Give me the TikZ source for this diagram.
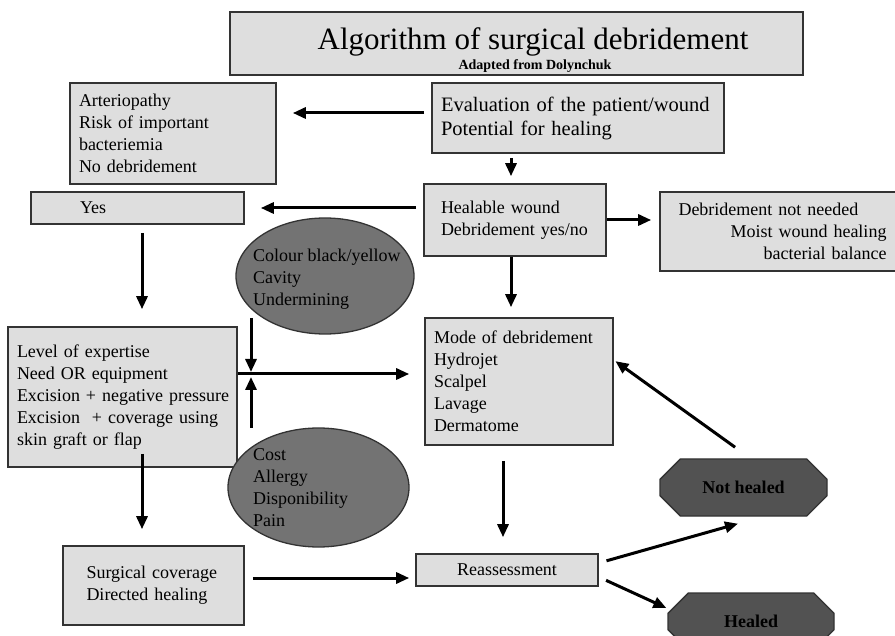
\documentclass[tikz,border=0pt]{standalone}
\usepackage{fontspec}
\setmainfont{Liberation Serif}
\usepackage{tikz}
\usetikzlibrary{arrows.meta}
\usetikzlibrary{shapes.geometric}
\usetikzlibrary{shapes.misc}
\definecolor{boxfill}{HTML}{DEDEDE}
\definecolor{boxline}{HTML}{333333}
\definecolor{blobfill}{HTML}{737373}
\definecolor{endfill}{HTML}{525252}

\begin{document}
\begin{tikzpicture}[x=1pt, y=-1pt,
    box/.style={draw=boxline, fill=boxfill, line width=1.6pt, align=left,
        inner xsep=9pt, inner ysep=0pt, font=\fontsize{18}{22}\selectfont},
    blob/.style={ellipse, draw=boxline, fill=blobfill, line width=1.3pt, inner sep=0pt},
    blobtext/.style={align=left, anchor=west, inner sep=0pt, font=\fontsize{18}{22}\selectfont},
    endbox/.style={chamfered rectangle, chamfered rectangle xsep=17pt,
        chamfered rectangle ysep=14pt, draw=boxline, fill=endfill, line width=1.3pt,
        inner sep=0pt, font=\bfseries\fontsize{18}{22}\selectfont},
    arr/.style={-{Triangle[length=13pt,width=11pt]}, line width=3pt}]
    \useasboundingbox (0,0) rectangle (895,636);

    \node[box, minimum width=573pt, minimum height=63pt] (ttl) at (516.5,43.5) {};
    \node[anchor=base, inner sep=0pt, font=\fontsize{31}{31}\selectfont] (ttltext) at (533,50) {Algorithm of surgical debridement};
    \node[anchor=base, inner sep=0pt, font=\bfseries\fontsize{14}{14}\selectfont] (ttlsub) at (535,70) {Adapted from Dolynchuk};

    \node[box, text width=188pt, minimum height=101pt] (arter) at (173,133.5)
        {Arteriopathy\\Risk of important\\bacteriemia\\No debridement};
    \node[box, text width=274pt, minimum height=70pt, font=\fontsize{20.5}{24}\selectfont] (eval) at (578,118)
        {Evaluation of the patient/wound\\Potential for healing};
    \node[box, inner xsep=49pt, text width=115pt, minimum height=32pt] (yes) at (137.5,208) {Yes};
    \node[box, inner xsep=17pt, text width=148pt, minimum height=72pt] (heal) at (515,220)
        {Healable wound\\Debridement yes/no};
    \node[box, inner xsep=18.5pt, text width=300pt, minimum height=79pt] (notneed) at (828.5,231.5)
        {Debridement not needed\\\makebox[208pt][r]{Moist wound healing}\\\makebox[208pt][r]{bacterial balance}};
    \node[box, text width=170pt, minimum height=127pt] (mode) at (519,381.5)
        {Mode of debridement\\Hydrojet\\Scalpel\\Lavage\\Dermatome};
    \node[box, text width=211pt, minimum height=140pt] (level) at (122.5,397)
        {Level of expertise\\Need OR equipment\\\mbox{Excision + negative pressure}\\\mbox{Excision~ + coverage using}\\skin graft or flap};
    \node[box, inner xsep=23.5pt, text width=134pt, minimum height=79pt] (surg) at (153.5,585.5)
        {Surgical coverage\\Directed healing};
    \node[box, text width=164pt, minimum height=32pt, align=center] (reass) at (507,570) {Reassessment};

    \node[blob, minimum width=178pt, minimum height=116pt] (colour) at (325,276) {};
    \node[blobtext] (colourtxt) at (253,279) {Colour black/yellow\\Cavity\\Undermining};
    \node[blob, minimum width=181pt, minimum height=119pt] (cost) at (318.5,487.5) {};
    \node[blobtext] (costtxt) at (253,487.5) {Cost\\Allergy\\Disponibility\\Pain};

    \node[endbox, minimum width=167pt, minimum height=57pt] (notheal) at (743.5,487.5) {Not healed};
    \node[endbox, minimum width=166pt, minimum height=57pt] (healed) at (751,621.5) {Healed};

    \coordinate (cross) at (251,374);

    \draw[arr, shorten <=7pt, shorten >=16pt] ([yshift=5pt]eval.west) -- ([yshift=5pt]eval.west -| arter.east);
    \draw[arr, shorten <=4pt, shorten >=7pt] ([xshift=-4pt]heal.north |- eval.south) -- ([xshift=-4pt]heal.north);
    \draw[arr, shorten <=7pt, shorten >=16pt] (yes.east -| heal.west) -- (yes.east);
    \draw[arr, shorten >=8pt] (heal.east) -- (heal.east -| notneed.west);
    \draw[arr, shorten >=10pt] ([xshift=-4pt]heal.south) -- ([xshift=-4pt]heal.south |- mode.north);
    \draw[arr, shorten <=8pt, shorten >=17pt] ([xshift=4.5pt]yes.south) -- ([xshift=4.5pt]yes.south |- level.north);
    \draw[arr, shorten >=15pt] ([yshift=23pt]level.east) -- ([yshift=23pt]level.east -| mode.west);
    \draw[arr, shorten <=10pt, shorten >=2pt] (cross |- colour.203) -- (cross);
    \draw[arr, shorten <=20pt, shorten >=3pt] (cross |- cost.150) -- (cross);
    \draw[arr, shorten <=-14pt, shorten >=16pt] ([xshift=19.5pt]level.south) -- ([xshift=19.5pt]level.south |- surg.north);
    \draw[arr, shorten <=8pt, shorten >=6pt] ([yshift=-8pt]reass.west -| surg.east) -- ([yshift=-8pt]reass.west);
    \draw[arr, shorten <=15pt, shorten >=16pt] ([xshift=-4pt]reass.north |- mode.south) -- ([xshift=-4pt]reass.north);
    \draw[arr, shorten <=8pt] ([yshift=7pt]reass.east) -- ([xshift=-5.5pt,yshift=-7pt]notheal.south);
    \draw[arr, shorten <=8pt] ([yshift=-7pt]reass.east) -- ([xshift=-1pt,yshift=13.5pt]healed.west);
    \draw[arr, shorten <=19pt, shorten >=2pt] ([xshift=7pt]notheal.north) -- ([yshift=21.5pt]mode.east);
\end{tikzpicture}
\end{document}
